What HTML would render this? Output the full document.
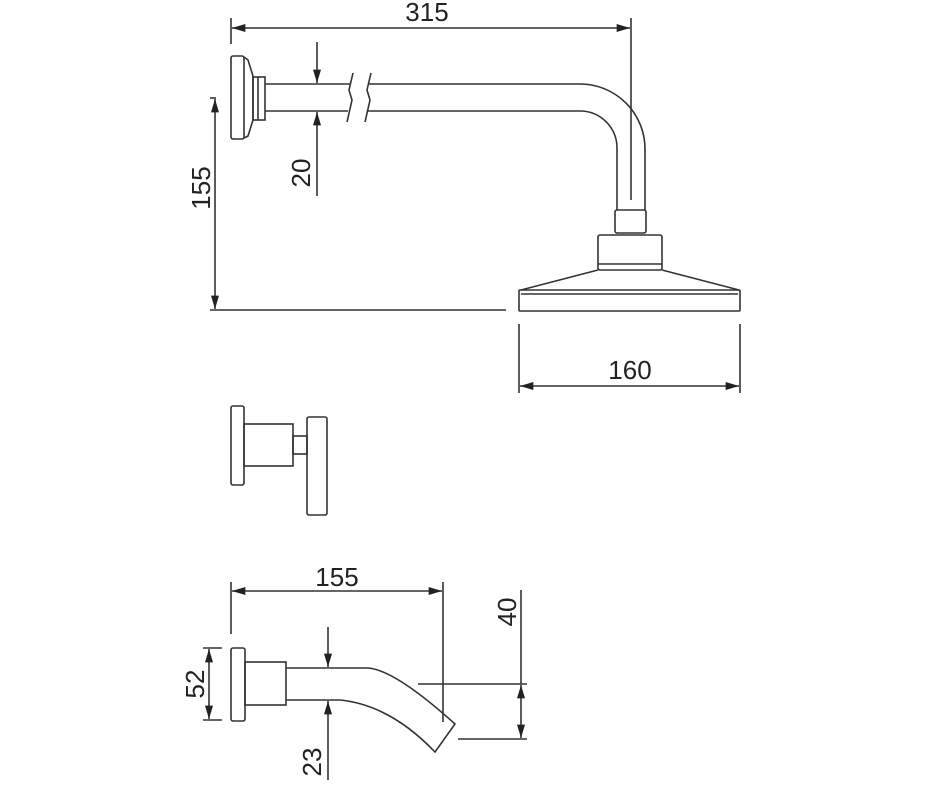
<!DOCTYPE html>
<html><head><style>body{margin:0;background:#fff}svg{display:block}</style></head><body>
<svg width="940" height="788" viewBox="0 0 940 788" xmlns="http://www.w3.org/2000/svg">
<defs>
<marker id="a" viewBox="0 0 10 6" refX="10" refY="3" markerWidth="20" markerHeight="8" markerUnits="userSpaceOnUse" orient="auto-start-reverse"><path d="M0,0 L10,3 L0,6 z" fill="#222"/></marker>
</defs>
<g stroke="#333" stroke-width="1.6" fill="none">
<line x1="231" y1="18" x2="231" y2="44"/>
<line x1="631" y1="18" x2="631" y2="200"/>
<line x1="232" y1="28" x2="630" y2="28" marker-start="url(#a)" marker-end="url(#a)"/>
<rect x="231" y="56" width="13" height="83" rx="2"/>
<path d="M244,57 L248,60 L253,76 L253,120 L248,136 L244,138"/>
<rect x="253" y="77" width="12" height="43"/>
<line x1="258" y1="77" x2="258" y2="120"/>
<path d="M265,84 L350,84 M265,111 L348,111"/>
<path d="M353,73 L349,90 L352,100 L347,122"/>
<path d="M371,73 L367,90 L370,100 L365,122"/>
<path d="M369,84 L580,84 A65,65 0 0 1 645,149 L645,210"/>
<path d="M367,111 L580,111 A37,37 0 0 1 617,148 L617,210"/>
<rect x="615" y="210" width="31" height="23" rx="2"/>
<rect x="598" y="235" width="64" height="35" rx="2"/>
<line x1="598" y1="264" x2="662" y2="264"/>
<path d="M598,270 L521,290 M662,270 L739,290"/>
<rect x="519" y="290" width="221" height="21" rx="1"/>
<line x1="521" y1="294" x2="738" y2="294"/>
<line x1="317" y1="42" x2="317" y2="83" marker-end="url(#a)"/>
<line x1="317" y1="196" x2="317" y2="112" marker-end="url(#a)"/>
<line x1="210" y1="98" x2="216" y2="98"/>
<line x1="215" y1="99" x2="215" y2="309" marker-start="url(#a)" marker-end="url(#a)"/>
<line x1="210" y1="310" x2="506" y2="310"/>
<line x1="519" y1="324" x2="519" y2="393"/>
<line x1="740" y1="324" x2="740" y2="393"/>
<line x1="520" y1="386" x2="739" y2="386" marker-start="url(#a)" marker-end="url(#a)"/>
<rect x="231" y="406" width="13" height="79" rx="2"/>
<rect x="244" y="424" width="49" height="42"/>
<rect x="293" y="436" width="14" height="18"/>
<rect x="307" y="417" width="20" height="98" rx="2"/>
<line x1="231" y1="582" x2="231" y2="634"/>
<line x1="443" y1="582" x2="443" y2="722"/>
<line x1="232" y1="591" x2="442" y2="591" marker-start="url(#a)" marker-end="url(#a)"/>
<rect x="231" y="648" width="14" height="73" rx="2"/>
<rect x="245" y="662" width="41" height="43"/>
<path d="M286,668 L368,668 Q395,670 455,724 L435,752 Q390,705 340,700 L286,700"/>
<line x1="328" y1="627" x2="328" y2="667" marker-end="url(#a)"/>
<line x1="328" y1="780" x2="328" y2="701" marker-end="url(#a)"/>
<line x1="203" y1="648" x2="222" y2="648"/>
<line x1="203" y1="720" x2="222" y2="720"/>
<line x1="209" y1="649" x2="209" y2="719" marker-start="url(#a)" marker-end="url(#a)"/>
<line x1="521" y1="590" x2="521" y2="684"/>
<line x1="418" y1="684" x2="527" y2="684"/>
<line x1="458" y1="739" x2="527" y2="739"/>
<line x1="521" y1="685" x2="521" y2="738" marker-start="url(#a)" marker-end="url(#a)"/>
</g>
<g font-family="Liberation Sans, sans-serif" font-size="26" fill="#222" text-anchor="middle">
<text x="427" y="21">315</text>
<text x="630" y="379">160</text>
<text x="337" y="586">155</text>
<text transform="translate(310,173) rotate(-90)">20</text>
<text transform="translate(210,188) rotate(-90)">155</text>
<text transform="translate(204,684) rotate(-90)">52</text>
<text transform="translate(321,762) rotate(-90)">23</text>
<text transform="translate(516,612) rotate(-90)">40</text>
</g>
</svg>
</body></html>
